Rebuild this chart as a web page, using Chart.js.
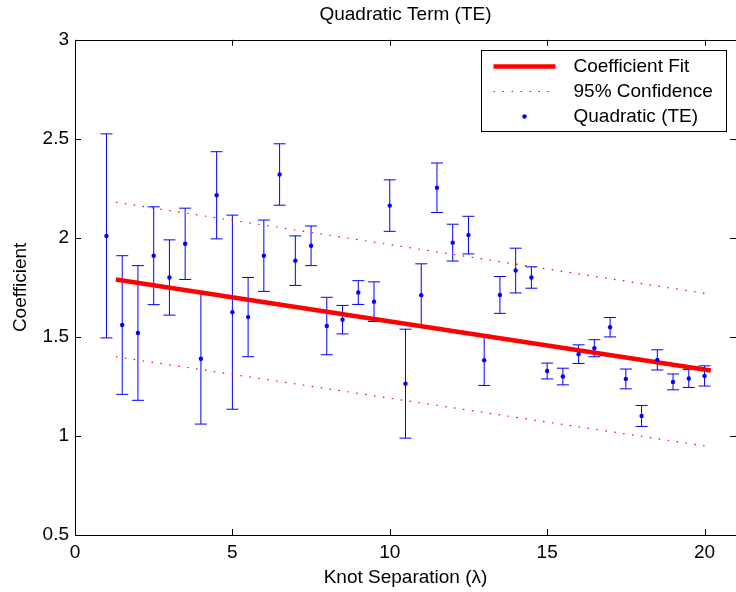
<!DOCTYPE html>
<html>
<head>
<meta charset="utf-8">
<title>Quadratic Term (TE)</title>
<script src="https://cdn.jsdelivr.net/npm/chart.js@4.4.0/dist/chart.umd.min.js"></script>
<style>
  html, body { margin: 0; padding: 0; background: #fff; overflow: hidden; }
  #wrap { width: 740px; height: 592px; }
</style>
</head>
<body>
<div id="wrap"><canvas id="coefChart" width="740" height="592"></canvas></div>
<script>
// Knot separation (lambda) for each measured coefficient
const knotSep = [1, 1.5, 2, 2.5, 3, 3.5, 4, 4.5, 5, 5.5, 6, 6.5, 7, 7.5, 8, 8.5, 9, 9.5, 10,
                 10.5, 11, 11.5, 12, 12.5, 13, 13.5, 14, 14.5, 15, 15.5, 16, 16.5, 17, 17.5,
                 18, 18.5, 19, 19.5, 20];
// Quadratic (TE) coefficient values
const coefVals = [2.01, 1.56, 1.52, 1.91, 1.80, 1.97, 1.39, 2.215, 1.625, 1.60, 1.91, 2.32, 1.885,
                  1.96, 1.555, 1.587, 1.724, 1.678, 2.163, 1.264, 1.711, 2.253, 1.976, 2.014, 1.382,
                  1.712, 1.835, 1.80, 1.328, 1.30, 1.413, 1.443, 1.549, 1.288, 1.101, 1.384, 1.273,
                  1.29, 1.303];
// half-length of each error bar
const coefErr = [0.515, 0.35, 0.34, 0.247, 0.19, 0.18, 0.33, 0.22, 0.49, 0.20, 0.18, 0.155, 0.125,
                 0.10, 0.145, 0.072, 0.06, 0.10, 0.13, 0.275, 0.158, 0.125, 0.093, 0.095, 0.127,
                 0.093, 0.113, 0.054, 0.04, 0.042, 0.047, 0.043, 0.049, 0.05, 0.053, 0.051, 0.04,
                 0.045, 0.051];

// Fit line and its 95% confidence band (end points)
const fitX = [1.3, 20.2];
const fitY = [1.79, 1.33];
const confX = [1.3, 20];
const confUpperY = [2.18, 1.72];
const confLowerY = [1.40, 0.95];

// Axis ticks
const xTicks = [0, 5, 10, 15, 20];
const yTicks = [0.5, 1, 1.5, 2, 2.5, 3];

const FONT = "'Liberation Sans', Arial, Helvetica, sans-serif";
const BLUE = '#0000ff';
const RED = '#ff0000';

function toPoints(xs, ys) {
    return xs.map((x, i) => ({ x: x, y: ys[i] }));
}

// Error bars drawn from the scales, under the points
const errorBars = {
    id: 'errorBars',
    beforeDatasetsDraw(chart) {
        const ctx = chart.ctx;
        const xs = chart.scales.x;
        const ys = chart.scales.y;
        ctx.save();
        ctx.strokeStyle = BLUE;
        ctx.lineWidth = 1;
        knotSep.forEach((k, i) => {
            const px = xs.getPixelForValue(k);
            const top = ys.getPixelForValue(coefVals[i] + coefErr[i]);
            const bot = ys.getPixelForValue(coefVals[i] - coefErr[i]);
            ctx.beginPath();
            ctx.moveTo(px, top);
            ctx.lineTo(px, bot);
            ctx.moveTo(px - 6, top);
            ctx.lineTo(px + 6, top);
            ctx.moveTo(px - 6, bot);
            ctx.lineTo(px + 6, bot);
            ctx.stroke();
        });
        ctx.restore();
    }
};

// Box, inward ticks and the legend, in the old plotting style
const frameAndLegend = {
    id: 'frameAndLegend',
    afterDraw(chart) {
        const ctx = chart.ctx;
        const a = chart.chartArea;
        const xs = chart.scales.x;
        const ys = chart.scales.y;
        const tick = 6;
        ctx.save();
        ctx.strokeStyle = '#000';
        ctx.lineWidth = 1;
        ctx.beginPath();
        ctx.rect(Math.round(a.left) + 0.5, Math.round(a.top) + 0.5,
                 Math.round(a.right - a.left), Math.round(a.bottom - a.top));
        xTicks.forEach(v => {
            const px = Math.round(xs.getPixelForValue(v)) + 0.5;
            ctx.moveTo(px, a.bottom);
            ctx.lineTo(px, a.bottom - tick);
            ctx.moveTo(px, a.top);
            ctx.lineTo(px, a.top + tick);
        });
        yTicks.forEach(v => {
            const py = Math.round(ys.getPixelForValue(v)) + 0.5;
            ctx.moveTo(a.left, py);
            ctx.lineTo(a.left + tick, py);
            ctx.moveTo(a.right, py);
            ctx.lineTo(a.right - tick, py);
        });
        ctx.stroke();

        // legend
        const bw = 245, bh = 81;
        const bx = Math.round(a.right - 255) + 0.5;
        const by = Math.round(a.top + 10) + 0.5;
        ctx.fillStyle = '#fff';
        ctx.fillRect(bx, by, bw, bh);
        ctx.strokeRect(bx, by, bw, bh);

        const rows = [by + 16, by + 41, by + 66];
        const x0 = bx + 12, x1 = bx + 74;

        ctx.strokeStyle = RED;
        ctx.lineWidth = 4.5;
        ctx.beginPath();
        ctx.moveTo(x0, rows[0]);
        ctx.lineTo(x1, rows[0]);
        ctx.stroke();

        ctx.lineWidth = 1.2;
        ctx.setLineDash([1.5, 7.5]);
        ctx.beginPath();
        ctx.moveTo(x0, rows[1]);
        ctx.lineTo(x1, rows[1]);
        ctx.stroke();
        ctx.setLineDash([]);

        ctx.fillStyle = BLUE;
        ctx.beginPath();
        ctx.arc((x0 + x1) / 2, rows[2], 2.2, 0, Math.PI * 2);
        ctx.fill();

        ctx.fillStyle = '#000';
        ctx.font = '19px ' + FONT;
        ctx.textBaseline = 'middle';
        ctx.textAlign = 'left';
        ctx.fillText('Coefficient Fit', bx + 92, rows[0]);
        ctx.fillText('95% Confidence', bx + 92, rows[1]);
        ctx.fillText('Quadratic (TE)', bx + 92, rows[2]);
        ctx.restore();
    }
};

function createChart() {
    const ctx = document.getElementById('coefChart').getContext('2d');
    return new Chart(ctx, {
        type: 'scatter',
        data: {
            datasets: [
                {
                    label: 'Quadratic (TE)',
                    data: toPoints(knotSep, coefVals),
                    backgroundColor: BLUE,
                    borderColor: BLUE,
                    pointRadius: 2.2,
                    pointBorderWidth: 0,
                    showLine: false,
                    order: 0
                },
                {
                    label: 'Coefficient Fit',
                    data: toPoints(fitX, fitY),
                    borderColor: RED,
                    borderWidth: 4.5,
                    borderCapStyle: 'butt',
                    pointRadius: 0,
                    showLine: true,
                    order: 1
                },
                {
                    label: '95% Confidence',
                    data: toPoints(confX, confUpperY),
                    borderColor: RED,
                    borderWidth: 1.2,
                    borderDash: [1.5, 7.5],
                    pointRadius: 0,
                    showLine: true,
                    order: 2
                },
                {
                    label: '95% Confidence (lower)',
                    data: toPoints(confX, confLowerY),
                    borderColor: RED,
                    borderWidth: 1.2,
                    borderDash: [1.5, 7.5],
                    pointRadius: 0,
                    showLine: true,
                    order: 2
                }
            ]
        },
        options: {
            responsive: false,
            animation: false,
            devicePixelRatio: 1,
            layout: { padding: { left: 0, right: 2, top: 0, bottom: 0 } },
            plugins: {
                legend: { display: false },
                tooltip: { enabled: false },
                title: {
                    display: true,
                    text: 'Quadratic Term (TE)',
                    color: '#000',
                    fullSize: false,
                    font: { family: FONT, size: 19, weight: 'normal' },
                    padding: { top: 3, bottom: 14 }
                }
            },
            scales: {
                x: {
                    type: 'linear',
                    min: 0,
                    max: 21,
                    afterBuildTicks: s => { s.ticks = xTicks.map(v => ({ value: v })); },
                    afterFit: s => { s.height = 57; },
                    grid: { display: false, drawTicks: false },
                    border: { display: false },
                    ticks: {
                        color: '#000',
                        padding: 6,
                        maxRotation: 0,
                        callback: v => String(v),
                        font: { family: FONT, size: 19 }
                    },
                    title: {
                        display: true,
                        text: 'Knot Separation (λ)',
                        color: '#000',
                        font: { family: FONT, size: 19 },
                        padding: { top: 0, bottom: 3 }
                    }
                },
                y: {
                    type: 'linear',
                    min: 0.5,
                    max: 3,
                    afterBuildTicks: s => { s.ticks = yTicks.map(v => ({ value: v })); },
                    afterFit: s => { s.width = 75; },
                    grid: { display: false, drawTicks: false },
                    border: { display: false },
                    ticks: {
                        color: '#000',
                        padding: 6,
                        callback: v => String(v),
                        font: { family: FONT, size: 19 }
                    },
                    title: {
                        display: true,
                        text: 'Coefficient',
                        color: '#000',
                        font: { family: FONT, size: 19 },
                        padding: { top: 9, bottom: 0 }
                    }
                }
            }
        },
        plugins: [errorBars, frameAndLegend]
    });
}

window.addEventListener('DOMContentLoaded', () => {
    createChart();
});
</script>
</body>
</html>
